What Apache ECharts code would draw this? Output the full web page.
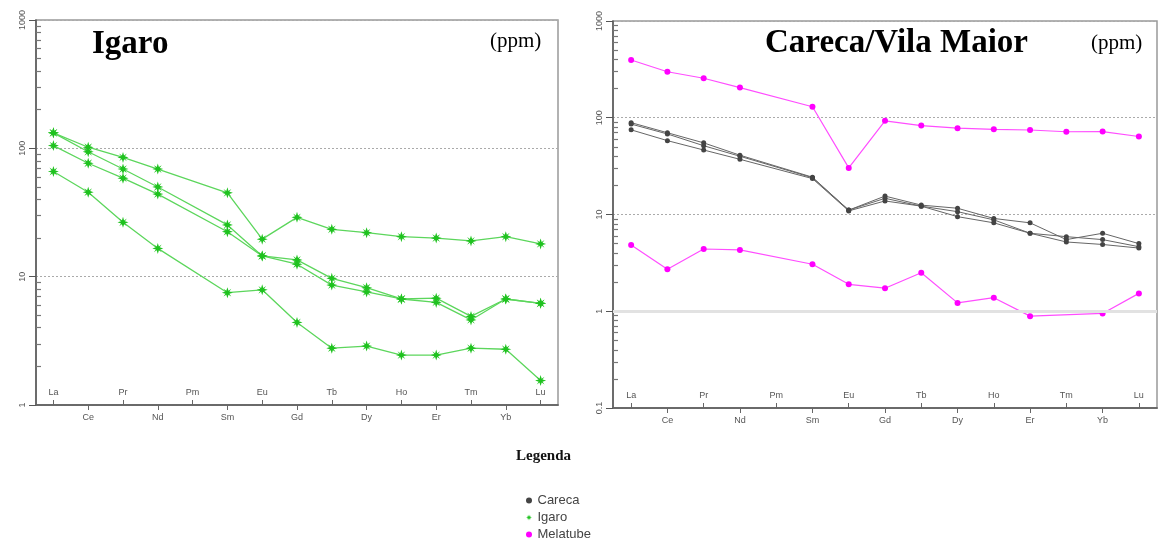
<!DOCTYPE html>
<html>
<head>
<meta charset="utf-8">
<script src="https://cdn.jsdelivr.net/npm/echarts@6/dist/echarts.min.js"></script>
<style>
  html, body { margin: 0; padding: 0; background: #fff; }
  #chart { width: 1161px; height: 548px; }
</style>
</head>
<body>
<div id="chart"></div>
<script>
// REE elements (Pm has no data)
const elements = ['La', 'Ce', 'Pr', 'Nd', 'Pm', 'Sm', 'Eu', 'Gd', 'Tb', 'Dy', 'Ho', 'Er', 'Tm', 'Yb', 'Lu'];

// Igaro samples (left panel)
const igaroA = [132, 102, 85, 69, null, 45, 19.6, 29, 23.4, 22, 20.5, 20, 19, 20.5, 18];
const igaroB = [132, 94, 69, 50, null, 25.3, 14.5, 13.5, 9.7, 8.2, 6.7, 6.8, 4.9, 6.7, 6.2];
const igaroC = [105, 76.5, 58.5, 44, null, 22.4, 14.5, 12.5, 8.6, 7.6, 6.7, 6.3, 4.6, 6.7, 6.2];
const igaroD = [66, 45.5, 26.5, 16.6, null, 7.5, 7.9, 4.4, 2.77, 2.88, 2.45, 2.45, 2.77, 2.72, 1.55];

// Careca / Melatube samples (right panel)
const careca1 = [89, 70, 55, 41, null, 24.3, 11.1, 15.5, 12.5, 11.6, 9.1, 8.2, 5.5, 6.4, 5.0];
const careca2 = [86, 68, 51.4, 40, null, 24, 11.1, 14.7, 12.2, 10.7, 8.8, 6.4, 5.9, 5.5, 4.65];
const careca3 = [75, 58, 46.4, 37.2, null, 23.5, 10.9, 13.8, 12.2, 9.5, 8.2, 6.4, 5.2, 4.9, 4.5];
const melatubeHigh = [395, 299, 256, 205, null, 130, 30.3, 93, 83, 78, 76, 74.7, 71.7, 72, 64];
const melatubeLow = [4.84, 2.72, 4.4, 4.3, null, 3.06, 1.9, 1.73, 2.5, 1.22, 1.38, 0.89, null, 0.95, 1.53];

const starPath = 'path://M0,-10L2,-3.5L7.07,-7.07L3.5,-2L10,0L3.5,2L7.07,7.07L2,3.5L0,10L-2,3.5L-7.07,7.07L-3.5,2L-10,0L-3.5,-2L-7.07,-7.07L-2,-3.5Z';

const chart = echarts.init(document.getElementById('chart'));

// even elements labelled inside the plot, odd ones below the axis
const makeX = (gridIndex, inside) => ({
  type: 'category',
  gridIndex: gridIndex,
  position: 'bottom',
  data: elements,
  boundaryGap: true,
  axisLine: { show: true, onZero: false, lineStyle: { color: '#666', width: 1.5 } },
  axisTick: {
    show: true, inside: inside, alignWithLabel: true, length: 5,
    interval: (i) => (i % 2 === 0) === inside,
    lineStyle: { color: '#666' }
  },
  axisLabel: {
    show: true, inside: inside, margin: 8,
    interval: (i) => (i % 2 === 0) === inside,
    fontSize: 9, color: '#555', fontFamily: 'Liberation Sans'
  },
  splitLine: { show: false }
});

const makeY = (gridIndex, min) => ({
  type: 'log', logBase: 10, gridIndex: gridIndex, position: 'left', min: min, max: 1000,
  axisLine: { show: true, lineStyle: { color: '#555', width: 1.5 } },
  axisTick: { show: true, length: 7, lineStyle: { color: '#555' } },
  axisLabel: {
    rotate: 90, fontSize: 9, color: '#555', margin: 9, fontFamily: 'Liberation Sans',
    formatter: (v) => String(v)
  },
  splitLine: { show: true, lineStyle: { color: '#aaa', type: [2, 2] } }
});

// second log axis only for the inside minor ticks
const makeMinorY = (gridIndex, min) => ({
  type: 'log', logBase: 10, gridIndex: gridIndex, position: 'left', min: min, max: 1000,
  axisLine: { show: false },
  axisTick: { show: true, inside: true, length: 0 },
  axisLabel: { show: false },
  splitLine: { show: false },
  minorTick: { show: true, splitNumber: 9, length: 5, lineStyle: { color: '#777', width: 1.2 } }
});

const igaroSeries = (data) => ({
  name: 'Igaro', type: 'line', xAxisIndex: 0, yAxisIndex: 0, data: data,
  connectNulls: true, symbol: starPath, symbolSize: 11,
  lineStyle: { color: '#5cd65c', width: 1.3 },
  itemStyle: { color: '#1fc21f' }
});

const carecaSeries = (data) => ({
  name: 'Careca', type: 'line', xAxisIndex: 2, yAxisIndex: 2, data: data,
  connectNulls: true, symbol: 'circle', symbolSize: 5,
  lineStyle: { color: '#666', width: 1 },
  itemStyle: { color: '#444' }
});

const melatubeSeries = (data, extra) => Object.assign({
  name: 'Melatube', type: 'line', xAxisIndex: 2, yAxisIndex: 2, data: data,
  connectNulls: true, symbol: 'circle', symbolSize: 6,
  lineStyle: { color: '#ff4dff', width: 1.2 },
  itemStyle: { color: '#ff00ff' }
}, extra || {});

const option = {
  animation: false,
  backgroundColor: '#fff',
  title: [
    { text: 'Igaro', left: 92, top: 28, padding: 0,
      textStyle: { fontFamily: 'Liberation Serif', fontWeight: 'bold', fontSize: 33, color: '#000' } },
    { text: '(ppm)', left: 490, top: 31, padding: 0,
      textStyle: { fontFamily: 'Liberation Serif', fontWeight: 'normal', fontSize: 21, color: '#000' } },
    { text: 'Careca/Vila Maior', left: 765, top: 27, padding: 0,
      textStyle: { fontFamily: 'Liberation Serif', fontWeight: 'bold', fontSize: 33, color: '#000' } },
    { text: '(ppm)', left: 1091, top: 33, padding: 0,
      textStyle: { fontFamily: 'Liberation Serif', fontWeight: 'normal', fontSize: 21, color: '#000' } },
    { text: 'Legenda', left: 516, top: 449, padding: 0,
      textStyle: { fontFamily: 'Liberation Serif', fontWeight: 'bold', fontSize: 15, color: '#111' } }
  ],
  legend: {
    orient: 'vertical', left: 526, top: 494, padding: 0,
    itemWidth: 7, itemHeight: 6, itemGap: 4,
    textStyle: { fontFamily: 'Liberation Sans', fontSize: 13, color: '#444' },
    data: [
      { name: 'Careca', icon: 'circle' },
      { name: 'Igaro', icon: starPath },
      { name: 'Melatube', icon: 'circle' }
    ]
  },
  grid: [
    { left: 36, top: 20, width: 522, height: 385, show: true, borderColor: '#999', borderWidth: 1.5 },
    { left: 613, top: 21, width: 544, height: 387, show: true, borderColor: '#999', borderWidth: 1.5 }
  ],
  xAxis: [makeX(0, true), makeX(0, false), makeX(1, true), makeX(1, false)],
  yAxis: [makeY(0, 1), makeMinorY(0, 1), makeY(1, 0.1), makeMinorY(1, 0.1)],
  series: [
    igaroSeries(igaroA),
    igaroSeries(igaroB),
    igaroSeries(igaroC),
    igaroSeries(igaroD),
    carecaSeries(careca1),
    carecaSeries(careca2),
    carecaSeries(careca3),
    melatubeSeries(melatubeHigh),
    melatubeSeries(melatubeLow, {
      markLine: {
        silent: true, symbol: 'none', label: { show: false },
        lineStyle: { color: '#e2e2e2', width: 3, type: 'solid' },
        data: [{ yAxis: 1 }]
      }
    })
  ]
};

chart.setOption(option);
</script>
</body>
</html>
